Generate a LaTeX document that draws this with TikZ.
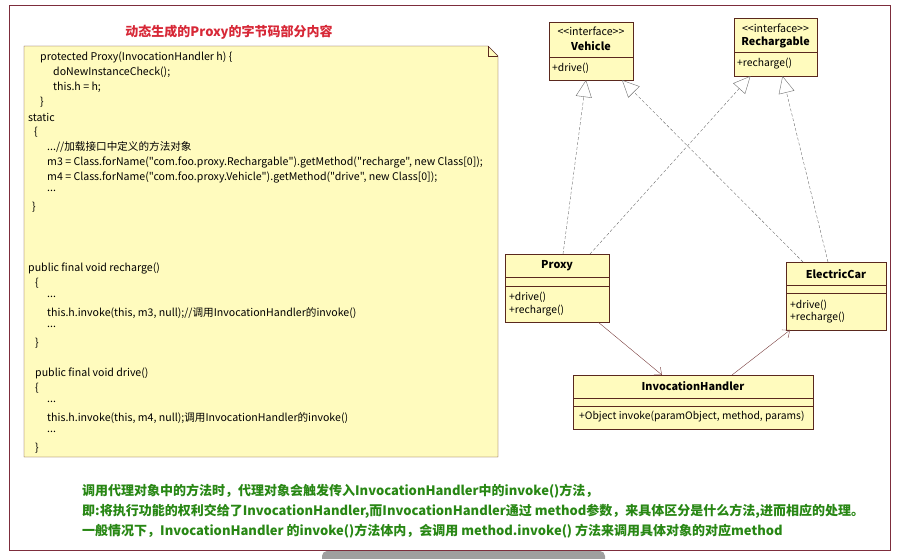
\documentclass[tikz,border=0pt]{standalone}
\usepackage{fontspec}
\setmainfont{Noto Sans CJK SC}[Ligatures=TeXOff]
\usetikzlibrary{arrows.meta}

\definecolor{framered}{RGB}{125,45,60}
\definecolor{notefill}{RGB}{255,251,190}
\definecolor{boxline}{RGB}{90,40,30}
\definecolor{titlered}{RGB}{215,40,55}
\definecolor{textgreen}{RGB}{40,135,20}
\definecolor{linkgray}{RGB}{110,110,110}
\definecolor{linkbrown}{RGB}{120,60,60}

\tikzset{
 umlbox/.style={draw=boxline, fill=notefill, inner sep=0pt, outer sep=0pt},
 umltext/.style={inner sep=0pt, font=\fontsize{10.3}{12}\selectfont},
 umlname/.style={inner sep=0pt, font=\fontsize{10.8}{12}\selectfont\bfseries},
 stereo/.style={inner sep=0pt, font=\fontsize{10.6}{12}\selectfont},
 codetext/.style={inner sep=0pt, anchor=west, font=\fontsize{10.6}{12}\selectfont},
 realize/.style={linkgray, densely dashed, -{Triangle[open, length=17pt, width=16pt]}},
 assoc/.style={linkbrown, -{Straight Barb[length=6pt, width=10pt]}},
 remark/.style={inner sep=0pt, anchor=west, textgreen, font=\fontsize{13}{15}\selectfont\bfseries}
}

\begin{document}
\begin{tikzpicture}[x=1pt, y=-1pt]
\useasboundingbox (0,0) rectangle (900,558);

\draw[framered] (9,5) rectangle (890,550);
\fill[gray!75, rounded corners=5pt] (322,551) rectangle (605,566);

\node[titlered, font=\fontsize{13}{15}\selectfont\bfseries] (title) at (229,32) {动态生成的Proxy的字节码部分内容};

% note with the byte code
\draw[boxline, fill=notefill] (24,46) -- (488,46) -- (498,56) -- (498,457) -- (24,457) -- cycle;
\draw[boxline] (488,46) -- (488,56) -- (498,56);

\foreach \y/\x/\t [count=\i] in {
 57/40/{protected Proxy(InvocationHandler h) \{},
 72/53/{doNewInstanceCheck();},
 87/53/{this.h = h;},
 102/40/{\}},
 117/28/{static},
 132/34/{\{},
 147/47/{...//加载接口中定义的方法对象},
 162/47/{m3 = Class.forName("com.foo.proxy.Rechargable").getMethod("recharge", new Class[0]);},
 177/47/{m4 = Class.forName("com.foo.proxy.Vehicle").getMethod("drive", new Class[0]);},
 191/47/{...},
 207/32/{\}},
 268/28/{public final void recharge()},
 283/35/{\{},
 297/47/{...},
 313/47/{this.h.invoke(this, m3, null);//调用InvocationHandler的invoke()},
 327/47/{...},
 343/35/{\}},
 373/35/{public final void drive()},
 388/35/{\{},
 402/47/{...},
 418/47/{this.h.invoke(this, m4, null);调用InvocationHandler的invoke()},
 432/47/{...},
 448/35/{\}}} {
 \node[codetext] (code\i) at (\x,\y) {\t};
};

% class diagram
\node[umlbox, minimum width=84, minimum height=58] (vehicle) at (591,51) {};
\draw[boxline] ([yshift=-35pt]vehicle.north west) -- ([yshift=-35pt]vehicle.north east);
\node[stereo] (vehicle-st) at ([yshift=-9pt]vehicle.north) {<<interface>>};
\node[umlname] (vehicle-name) at ([yshift=-24pt]vehicle.north) {Vehicle};
\node[umltext, anchor=west] (vehicle-op) at ([xshift=3pt, yshift=-46pt]vehicle.north west) {+drive()};

\node[umlbox, minimum width=83, minimum height=58] (rechargable) at (775.5,47) {};
\draw[boxline] ([yshift=-34pt]rechargable.north west) -- ([yshift=-34pt]rechargable.north east);
\node[stereo] (rechargable-st) at ([yshift=-10pt]rechargable.north) {<<interface>>};
\node[umlname] (rechargable-name) at ([yshift=-24pt]rechargable.north) {Rechargable};
\node[umltext, anchor=west] (rechargable-op) at ([xshift=3pt, yshift=-46pt]rechargable.north west) {+recharge()};

\node[umlbox, minimum width=104, minimum height=68] (proxy) at (557,288) {};
\draw[boxline] ([yshift=-23pt]proxy.north west) -- ([yshift=-23pt]proxy.north east);
\draw[boxline] ([yshift=-32pt]proxy.north west) -- ([yshift=-32pt]proxy.north east);
\node[umlname] (proxy-name) at ([yshift=-12pt]proxy.north) {Proxy};
\node[umltext, anchor=west] (proxy-op1) at ([xshift=4pt, yshift=-43pt]proxy.north west) {+drive()};
\node[umltext, anchor=west] (proxy-op2) at ([xshift=4pt, yshift=-57pt]proxy.north west) {+recharge()};

\node[umlbox, minimum width=100, minimum height=68] (electriccar) at (836,296) {};
\draw[boxline] ([yshift=-23pt]electriccar.north west) -- ([yshift=-23pt]electriccar.north east);
\draw[boxline] ([yshift=-31pt]electriccar.north west) -- ([yshift=-31pt]electriccar.north east);
\node[umlname] (electriccar-name) at ([yshift=-12pt]electriccar.north) {ElectricCar};
\node[umltext, anchor=west] (electriccar-op1) at ([xshift=4pt, yshift=-43pt]electriccar.north west) {+drive()};
\node[umltext, anchor=west] (electriccar-op2) at ([xshift=4pt, yshift=-56pt]electriccar.north west) {+recharge()};

\node[umlbox, minimum width=240, minimum height=54] (handler) at (693,402) {};
\draw[boxline] ([yshift=-23pt]handler.north west) -- ([yshift=-23pt]handler.north east);
\draw[boxline] ([yshift=-31pt]handler.north west) -- ([yshift=-31pt]handler.north east);
\node[umlname] (handler-name) at ([yshift=-11pt]handler.north) {InvocationHandler};
\node[umltext, anchor=west] (handler-op) at ([xshift=6pt, yshift=-42pt]handler.north west) {+Object invoke(paramObject, method, params)};

\draw[realize] ([xshift=6pt]proxy.north) -- ([xshift=-5pt]vehicle.south);
\draw[realize] ([xshift=33pt]proxy.north) -- ([xshift=-25pt]rechargable.south);
\draw[realize] ([xshift=-33pt]electriccar.north) -- ([xshift=31pt]vehicle.south);
\draw[realize] ([xshift=-8pt]electriccar.north) -- ([xshift=7pt]rechargable.south);
\draw[assoc] ([xshift=41pt]proxy.south) -- ([xshift=-31pt]handler.north);
\draw[assoc] ([xshift=39pt]handler.north) -- ([xshift=-46pt]electriccar.south);

% remarks
\node[remark] (remark1) at (82,491) {调用代理对象中的方法时，代理对象会触发传入InvocationHandler中的invoke()方法，};
\node[remark] (remark2) at (82,511) {即:将执行功能的权利交给了InvocationHandler,而InvocationHandler通过 method参数，来具体区分是什么方法,进而相应的处理。};
\node[remark] (remark3) at (82,531) {一般情况下，InvocationHandler 的invoke()方法体内，会调用 method.invoke() 方法来调用具体对象的对应method};
\end{tikzpicture}
\end{document}
